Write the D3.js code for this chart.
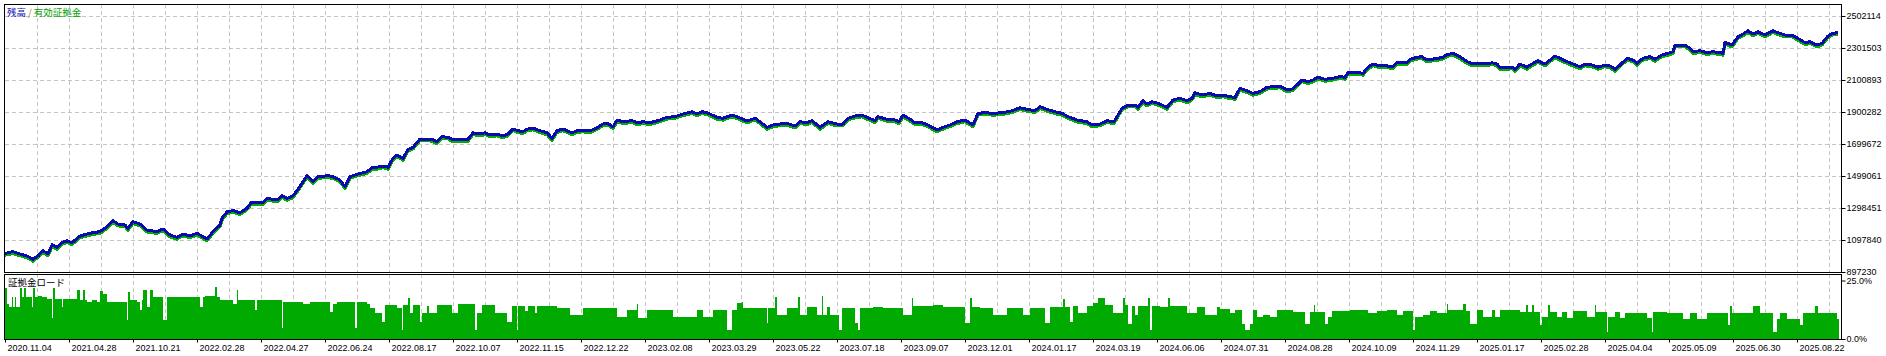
<!DOCTYPE html>
<html>
<head>
<meta charset="utf-8">
<script src="https://cdn.jsdelivr.net/npm/d3@7"></script>
<style>
  html, body { margin: 0; padding: 0; background: #fff; }
  svg { display: block; font-family: "Liberation Sans", Arial, sans-serif; }
</style>
</head>
<body>
<div id="chart"></div>
<script>
// balance curve, [deal number, balance in thousands]
const balancePts = [[0,1014],[8,1025],[15,1010],[22,998],[28,977],[33,998],[38,1031],[43,1010],[47,1067],[52,1052],[57,1081],[62,1093],[67,1081],[75,1123],[82,1135],[88,1144],[95,1150],[102,1181],[108,1219],[113,1198],[120,1192],[123,1171],[128,1213],[135,1198],[142,1160],[152,1150],[158,1167],[165,1129],[172,1115],[178,1135],[185,1123],[192,1140],[202,1104],[208,1150],[215,1192],[217,1234],[222,1275],[228,1282],[235,1269],[242,1297],[246,1332],[258,1332],[262,1359],[272,1349],[277,1376],[282,1359],[288,1374],[293,1416],[298,1463],[302,1501],[308,1463],[313,1495],[323,1501],[328,1495],[335,1474],[340,1432],[345,1495],[353,1512],[362,1526],[368,1554],[372,1554],[378,1562],[383,1554],[388,1610],[392,1631],[398,1610],[403,1666],[408,1679],[415,1731],[427,1729],[432,1714],[437,1745],[443,1742],[448,1725],[455,1729],[463,1729],[468,1770],[475,1762],[480,1770],[485,1756],[492,1762],[498,1750],[503,1762],[508,1794],[513,1783],[518,1777],[522,1792],[528,1800],[535,1783],[542,1770],[547,1735],[552,1783],[558,1794],[567,1770],[572,1783],[578,1787],[585,1781],[592,1802],[598,1825],[603,1829],[608,1808],[612,1850],[618,1839],[627,1846],[632,1833],[638,1839],[645,1833],[655,1850],[662,1867],[670,1871],[678,1888],[687,1902],[692,1888],[697,1902],[702,1896],[712,1867],[718,1861],[727,1881],[732,1871],[738,1855],[742,1844],[750,1861],[755,1839],[762,1804],[768,1819],[775,1825],[782,1829],[790,1813],[795,1839],[802,1833],[807,1846],[815,1804],[823,1839],[832,1825],[838,1825],[843,1861],[850,1875],[857,1881],[862,1867],[870,1846],[873,1871],[882,1855],[890,1850],[894,1839],[898,1881],[905,1855],[910,1833],[917,1833],[923,1819],[932,1787],[938,1804],[945,1819],[952,1839],[960,1850],[968,1819],[973,1892],[980,1896],[988,1892],[998,1896],[1007,1908],[1015,1927],[1022,1917],[1030,1908],[1035,1934],[1042,1917],[1050,1902],[1057,1892],[1063,1871],[1072,1850],[1082,1839],[1087,1819],[1095,1825],[1102,1846],[1109,1839],[1113,1881],[1117,1924],[1123,1944],[1130,1944],[1133,1930],[1138,1971],[1142,1950],[1147,1965],[1153,1955],[1162,1930],[1168,1976],[1175,1986],[1182,1971],[1187,1986],[1190,2021],[1197,2007],[1205,2017],[1212,2001],[1218,2007],[1225,1996],[1230,1992],[1235,2049],[1242,2034],[1248,2017],[1255,2028],[1262,2055],[1268,2059],[1275,2063],[1282,2038],[1287,2044],[1292,2070],[1297,2101],[1303,2090],[1308,2101],[1313,2118],[1320,2105],[1328,2112],[1335,2122],[1340,2118],[1343,2147],[1352,2149],[1358,2143],[1363,2181],[1368,2201],[1375,2189],[1382,2189],[1388,2184],[1392,2209],[1402,2209],[1405,2231],[1412,2243],[1417,2247],[1422,2226],[1427,2231],[1433,2237],[1438,2243],[1442,2260],[1448,2268],[1455,2247],[1462,2216],[1468,2201],[1475,2206],[1482,2201],[1487,2209],[1492,2201],[1495,2181],[1507,2181],[1510,2168],[1515,2201],[1522,2181],[1527,2201],[1533,2222],[1540,2201],[1545,2226],[1550,2251],[1555,2237],[1562,2216],[1568,2201],[1575,2184],[1580,2201],[1587,2195],[1593,2181],[1600,2195],[1605,2189],[1610,2168],[1615,2195],[1622,2237],[1628,2226],[1632,2206],[1638,2237],[1645,2247],[1650,2231],[1657,2258],[1663,2268],[1668,2278],[1670,2320],[1680,2320],[1685,2300],[1688,2278],[1695,2285],[1702,2272],[1708,2278],[1715,2272],[1718,2268],[1720,2337],[1727,2320],[1733,2372],[1738,2389],[1743,2410],[1748,2389],[1753,2404],[1760,2383],[1768,2410],[1773,2397],[1780,2383],[1787,2383],[1793,2362],[1800,2335],[1805,2341],[1812,2320],[1817,2331],[1823,2377],[1828,2394],[1833,2397]];

// equity curve, [deal number, equity in thousands]
const equityPts = [[0,1003],[8,1013],[15,999],[22,987],[28,965],[33,988],[38,1020],[43,998],[47,1056],[52,1040],[57,1070],[62,1082],[67,1069],[75,1112],[82,1124],[88,1133],[95,1138],[102,1170],[108,1208],[113,1186],[120,1181],[123,1159],[128,1202],[135,1186],[142,1148],[152,1139],[158,1156],[165,1117],[172,1103],[178,1124],[185,1111],[192,1129],[202,1092],[208,1139],[215,1181],[217,1223],[222,1264],[228,1271],[235,1257],[242,1286],[246,1321],[258,1320],[262,1348],[272,1337],[277,1365],[282,1347],[288,1363],[293,1405],[298,1452],[302,1490],[308,1451],[313,1484],[323,1490],[328,1483],[335,1462],[340,1420],[345,1484],[353,1501],[362,1515],[368,1543],[372,1542],[378,1551],[383,1542],[388,1599],[392,1620],[398,1598],[403,1655],[408,1668],[415,1720],[427,1718],[432,1702],[437,1734],[443,1731],[448,1713],[455,1718],[463,1717],[468,1759],[475,1750],[480,1759],[485,1744],[492,1751],[498,1738],[503,1751],[508,1783],[513,1771],[518,1765],[522,1781],[528,1789],[535,1771],[542,1758],[547,1723],[552,1772],[558,1783],[567,1758],[572,1772],[578,1776],[585,1769],[592,1791],[598,1814],[603,1818],[608,1796],[612,1839],[618,1827],[627,1835],[632,1821],[638,1828],[645,1821],[655,1839],[662,1856],[670,1860],[678,1877],[687,1891],[692,1876],[697,1891],[702,1884],[712,1855],[718,1849],[727,1870],[732,1859],[738,1843],[742,1832],[750,1850],[755,1827],[762,1792],[768,1808],[775,1814],[782,1818],[790,1801],[795,1828],[802,1821],[807,1835],[815,1792],[823,1828],[832,1813],[838,1814],[843,1850],[850,1864],[857,1870],[862,1855],[870,1834],[873,1860],[882,1843],[890,1839],[894,1827],[898,1870],[905,1843],[910,1821],[917,1822],[923,1807],[932,1775],[938,1793],[945,1808],[952,1828],[960,1839],[968,1807],[973,1881],[980,1885],[988,1880],[998,1885],[1007,1897],[1015,1916],[1022,1905],[1030,1897],[1035,1923],[1042,1905],[1050,1890],[1057,1880],[1063,1859],[1072,1838],[1082,1827],[1087,1807],[1095,1814],[1102,1835],[1109,1827],[1113,1870],[1117,1913],[1123,1933],[1130,1932],[1133,1918],[1138,1960],[1142,1938],[1147,1954],[1153,1943],[1162,1918],[1168,1965],[1175,1975],[1182,1959],[1187,1975],[1190,2010],[1197,1995],[1205,2006],[1212,1989],[1218,1996],[1225,1984],[1230,1980],[1235,2038],[1242,2022],[1248,2005],[1255,2017],[1262,2044],[1268,2048],[1275,2052],[1282,2026],[1287,2033],[1292,2059],[1297,2090],[1303,2078],[1308,2090],[1313,2107],[1320,2093],[1328,2101],[1335,2111],[1340,2106],[1343,2136],[1352,2138],[1358,2131],[1363,2170],[1368,2190],[1375,2177],[1382,2178],[1388,2172],[1392,2198],[1402,2197],[1405,2220],[1412,2232],[1417,2235],[1422,2214],[1427,2220],[1433,2225],[1438,2232],[1442,2249],[1448,2257],[1455,2235],[1462,2204],[1468,2189],[1475,2195],[1482,2189],[1487,2198],[1492,2189],[1495,2169],[1507,2170],[1510,2156],[1515,2190],[1522,2169],[1527,2190],[1533,2211],[1540,2189],[1545,2215],[1550,2240],[1555,2225],[1562,2204],[1568,2189],[1575,2172],[1580,2190],[1587,2183],[1593,2169],[1600,2184],[1605,2177],[1610,2156],[1615,2184],[1622,2226],[1628,2214],[1632,2194],[1638,2226],[1645,2236],[1650,2219],[1657,2247],[1663,2257],[1668,2266],[1670,2309],[1680,2309],[1685,2288],[1688,2266],[1695,2274],[1702,2260],[1708,2267],[1715,2260],[1718,2256],[1720,2326],[1727,2308],[1733,2361],[1738,2378],[1743,2399],[1748,2377],[1753,2393],[1760,2371],[1768,2399],[1773,2385],[1780,2371],[1787,2372],[1793,2350],[1800,2323],[1805,2330],[1812,2308],[1817,2320],[1823,2366],[1828,2383],[1833,2386]];

// margin load, [first deal of the step, load %]
const loadSteps = [[0,22],[2,14.8],[4,13.7],[7,17.9],[8,13.7],[10,17.9],[11,13.7],[15,21.9],[17,17.9],[19,21.9],[21,17.9],[27,13.7],[28,21.9],[30,17.9],[33,18.3],[37,17.9],[42,17.2],[47,8.8],[48,21.9],[50,17.2],[57,13.7],[58,17.2],[72,20.8],[75,16.5],[78,20.8],[80,16.5],[82,15.8],[87,16.5],[92,15.8],[95,20.5],[98,19.4],[102,15.8],[122,8.1],[123,20.1],[125,16.5],[132,15.8],[135,12.3],[137,16.5],[138,21.1],[142,13.7],[145,21.1],[148,17.9],[158,8.1],[162,17.9],[195,13.7],[198,17.9],[200,18.3],[210,22.2],[212,17.9],[215,16.5],[228,15.1],[232,20.8],[233,16.5],[250,12.3],[252,16.5],[277,4.6],[278,15.8],[298,15.1],[305,15.8],[325,11.6],[328,15.1],[332,15.8],[350,4.6],[352,15.8],[362,15.1],
  [365,13.1],[370,10.9],[377,7.4],[380,14.5],[392,13.1],[397,3.9],[398,14.5],[403,17.6],[405,10.9],[408,14.5],[415,7.4],[417,10.9],[422,14.3],[424,10.9],[432,14.5],[447,10.9],[453,15],[470,3.9],[472,10.9],[477,14.5],[490,10.9],[502,7.4],[507,14],[512,3.8],[513,14],[520,12],[523,14],[530,11],[532,14],[545,14.3],[552,13.1],[565,10.3],[578,13.1],[612,9.5],[622,12.4],[632,15],[633,8.8],[642,12.6],[668,9.5],[692,12.4],[698,9.5],[708,12.4],[722,3.9],[727,12.4],[732,15.4],[737,15.8],
  [738,13.1],[762,6.7],[763,13.1],[770,17.9],[772,10.3],[782,13.1],[793,17.9],[795,10.3],[802,13.5],[812,10.3],[817,18.2],[818,10.3],[822,13.5],[825,10.3],[834,3.9],[837,13.1],[850,6.7],[853,3.9],[855,13.1],[868,13.8],[878,13.1],[898,10.3],[907,17.6],[908,14.1],[928,14.5],[938,13.8],[960,6.7],[965,17.6],[967,13.5],[975,13.1],[988,10.3],[1002,13.1],[1018,10.3],[1025,13.1],[1040,6.7],[1045,13.8],[1058,17.2],[1060,13.8],[1065,7.4],[1068,14.1],[1073,10.9],[1082,14.1],[1088,15.2],[1093,17.6],[1100,14.5],
  [1105,14.4],[1108,10.9],[1118,17.7],[1120,14.4],[1123,6.6],[1127,14],[1130,10.2],[1133,14],[1143,17.4],[1145,3.8],[1147,14],[1155,13.7],[1163,17.4],[1165,14],[1182,10.9],[1192,13.7],[1200,10.2],[1212,13.7],[1215,13],[1225,10.9],[1230,12.3],[1237,6.6],[1240,3.8],[1245,6.6],[1248,12.6],[1252,9.5],[1258,10.2],[1265,9.5],[1272,12.3],[1288,11.6],[1300,6.6],[1305,11.6],[1309,14.4],[1310,11.6],[1320,6.6],[1323,9.5],[1327,11.9],[1345,12.3],[1363,10.9],[1372,11.9],[1382,12.3],[1392,10.2],[1398,11.9],[1408,3.8],[1410,9.5],[1418,10.2],[1425,11.9],[1432,10.9],[1442,14.8],[1443,12.3],[1458,15],[1461,12],[1465,6.6],[1472,12.3],
  [1475,12.3],[1478,9.5],[1487,12.3],[1490,9.5],[1495,12.3],[1515,11.6],[1521,14.7],[1523,11.6],[1527,14.7],[1529,11.6],[1535,5.9],[1537,9.5],[1543,14.4],[1545,11.6],[1552,9.5],[1557,11.6],[1562,8.8],[1568,11.9],[1582,9.5],[1590,14.7],[1591,11.6],[1602,3.1],[1603,9.5],[1610,11.6],[1615,8.8],[1620,11.3],[1642,8.8],[1647,3.1],[1648,11.6],[1662,11.3],[1678,8.5],[1685,11.3],[1692,8.5],[1702,11.3],[1723,5.9],[1725,14.1],[1727,11.2],[1748,14.1],[1755,11.2],[1768,3.1],[1772,8.5],[1775,11.2],[1782,8.5],[1795,5.9],[1798,11.3],[1810,14.1],[1813,11.3],[1832,8.5]];
const lastDeal = 1834;

const balanceTicks = [897230, 1097840, 1298451, 1499061, 1699672, 1900282, 2100893, 2301503, 2502114];
const loadTicks = [0, 25];
const dateLabels = ["2020.11.04", "2021.04.28", "2021.10.21", "2022.02.28", "2022.04.27", "2022.06.24", "2022.08.17", "2022.10.07", "2022.11.15", "2022.12.22", "2023.02.08", "2023.03.29", "2023.05.22", "2023.07.18", "2023.09.07", "2023.12.01", "2024.01.17", "2024.03.19", "2024.06.06", "2024.07.31", "2024.08.28", "2024.10.09", "2024.11.29", "2025.01.17", "2025.02.28", "2025.04.04", "2025.05.09", "2025.06.30", "2025.08.22"];

// layout
const W = 1886, H = 356;
const left = 5, right = 1841;
const mainTop = 4, mainBottom = 272;
const loadTop = 274, loadBottom = 339;
const gridStep = 32, labelStep = 64;

const svg = d3.select("#chart").append("svg")
  .attr("width", W)
  .attr("height", H);

const x = d3.scaleLinear().domain([0, right - left]).range([left, right]);
const y = d3.scaleLinear().domain([897230, 2502114]).range([mainBottom, 16]);
const yLoad = d3.scaleLinear().domain([0, 25]).range([loadBottom, 280.5]);

const gridColor = "#c4c4c4";
const gridDeals = d3.range(gridStep, right - left, gridStep);

// vertical grid in both panes
[[mainTop, mainBottom], [loadTop, loadBottom]].forEach(([t, b]) => {
  svg.append("g")
    .selectAll("line")
    .data(gridDeals)
    .join("line")
    .attr("x1", (d) => Math.round(x(d)) + 0.5)
    .attr("x2", (d) => Math.round(x(d)) + 0.5)
    .attr("y1", t)
    .attr("y2", b)
    .attr("stroke", gridColor)
    .attr("stroke-dasharray", "4,3");
});

// horizontal grid in the main pane
svg.append("g")
  .selectAll("line")
  .data(balanceTicks.slice(1))
  .join("line")
  .attr("x1", left)
  .attr("x2", right)
  .attr("y1", (d) => Math.round(y(d)) + 0.5)
  .attr("y2", (d) => Math.round(y(d)) + 0.5)
  .attr("stroke", gridColor)
  .attr("stroke-dasharray", "4,3");

// margin load bars
const steps = loadSteps.map((d, i) => ({
  start: d[0],
  end: i < loadSteps.length - 1 ? loadSteps[i + 1][0] : lastDeal,
  value: d[1],
}));

svg.append("g")
  .attr("shape-rendering", "crispEdges")
  .selectAll("rect")
  .data(steps)
  .join("rect")
  .attr("x", (d) => x(d.start))
  .attr("width", (d) => x(d.end) - x(d.start))
  .attr("y", (d) => yLoad(d.value))
  .attr("height", (d) => yLoad(0) - yLoad(d.value))
  .attr("fill", "#00aa00");

// equity under, balance on top
const line = d3.line()
  .x((d) => x(d[0]))
  .y((d) => y(d[1] * 1000));

svg.append("path")
  .datum(equityPts)
  .attr("d", line)
  .attr("fill", "none")
  .attr("stroke", "#00b000")
  .attr("stroke-width", 3)
  .attr("stroke-linejoin", "round")
  .attr("shape-rendering", "crispEdges");

svg.append("path")
  .datum(balancePts)
  .attr("d", line)
  .attr("fill", "none")
  .attr("stroke", "#0a0ab0")
  .attr("stroke-width", 3)
  .attr("stroke-linejoin", "round")
  .attr("shape-rendering", "crispEdges");

// axes
const axisFont = (g) => g.selectAll("text")
  .attr("font-family", "'Liberation Sans', Arial, sans-serif")
  .attr("font-size", 9)
  .attr("fill", "#000");

svg.append("g")
  .attr("transform", `translate(${right + 0.5},0)`)
  .call(d3.axisRight(y).tickValues(balanceTicks).tickSize(4).tickPadding(1).tickFormat(d3.format("d")))
  .call((g) => g.select(".domain").remove())
  .call(axisFont);

svg.append("g")
  .attr("transform", `translate(${right + 0.5},0)`)
  .call(d3.axisRight(yLoad).tickValues(loadTicks).tickSize(4).tickPadding(1).tickFormat((d) => d.toFixed(1) + "%"))
  .call((g) => g.select(".domain").remove())
  .call(axisFont);

svg.append("g")
  .attr("transform", `translate(0,${loadBottom + 0.5})`)
  .call(d3.axisBottom(x).tickValues(d3.range(0, right - left, labelStep)).tickSize(3).tickPadding(2).tickFormat((d, i) => dateLabels[i]))
  .call((g) => g.select(".domain").remove())
  .call(axisFont)
  .call((g) => g.selectAll("text").attr("text-anchor", "start").attr("dx", 2));

// pane frames
[[mainTop, mainBottom], [loadTop, loadBottom]].forEach(([t, b]) => {
  svg.append("rect")
    .attr("x", left - 0.5)
    .attr("y", t + 0.5)
    .attr("width", right - left + 1)
    .attr("height", b - t)
    .attr("fill", "none")
    .attr("stroke", "#000");
});

// pane captions
const title = svg.append("text")
  .attr("x", 7)
  .attr("y", 16)
  .attr("font-family", "'Noto Sans CJK JP', sans-serif")
  .attr("font-size", 9.5);
title.append("tspan").attr("fill", "#0a0ab0").text("残高");
title.append("tspan").attr("fill", "#b07828").attr("dx", 2).text("/");
title.append("tspan").attr("fill", "#00a000").attr("dx", 2).text("有効証拠金");

svg.append("text")
  .attr("x", 8)
  .attr("y", 286)
  .attr("font-family", "'Noto Sans CJK JP', sans-serif")
  .attr("font-size", 9.5)
  .attr("fill", "#000")
  .text("証拠金ロード");
</script>
</body>
</html>
